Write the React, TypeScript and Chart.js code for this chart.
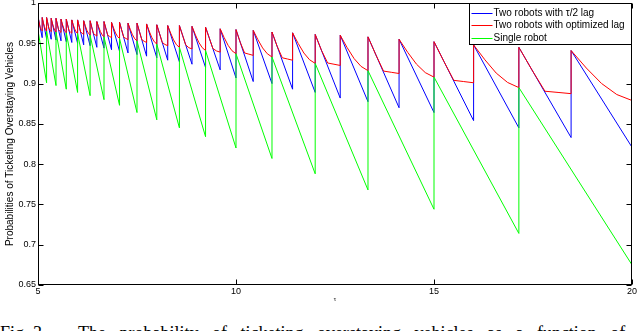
import React, { useEffect, useRef } from "react";
import { Chart, registerables } from "chart.js";

Chart.register(...registerables);

const SANS = '"Liberation Sans", Arial, Helvetica, sans-serif';

const xTickValues = [5, 10, 15, 20];
const yTickValues = [0.65, 0.7, 0.75, 0.8, 0.85, 0.9, 0.95, 1];

const seriesLabels = [
  "Two robots with \u03c4/2 lag",
  "Two robots with optimized lag",
  "Single robot",
];
const seriesColors = ["#0000ff", "#ff0000", "#00ff00"];
const yTitle = "Probabilities of Ticketing Overstaying Vehicles";
const xTitle = "\u03c4";

// Two-robot curves: reset instants (tau values)
const pairBounds = [
  5.0, 5.106, 5.217, 5.333, 5.455, 5.581, 5.714, 5.854, 6.0, 6.154, 6.316, 6.486,
  6.667, 6.857, 7.059, 7.273, 7.5, 7.742, 8.0, 8.276, 8.571, 8.889, 9.231, 9.6,
  10.0, 10.435, 10.909, 11.429, 12.0, 12.632, 13.333, 14.118, 15.0, 16.0, 17.143,
  18.462, 20.0,
];
// value right after each reset (shared by both two-robot curves)
const pairTop = [
  0.983, 0.982, 0.982, 0.981, 0.981, 0.98, 0.98, 0.979, 0.979, 0.978, 0.978, 0.977,
  0.977, 0.976, 0.976, 0.975, 0.975, 0.974, 0.973, 0.972, 0.972, 0.971, 0.97, 0.968,
  0.967, 0.966, 0.964, 0.963, 0.961, 0.96, 0.958, 0.955, 0.952, 0.948, 0.945, 0.941,
];
// tau/2 lag: value just before the next reset
const lagEnd = [
  0.957, 0.956, 0.955, 0.954, 0.953, 0.952, 0.951, 0.95, 0.948, 0.947, 0.945, 0.944,
  0.942, 0.94, 0.938, 0.936, 0.934, 0.932, 0.929, 0.927, 0.924, 0.92, 0.917, 0.907,
  0.9025, 0.9, 0.893, 0.889, 0.882, 0.8775, 0.87, 0.864, 0.854, 0.845, 0.833, 0.821,
];
// optimized lag: values at 1/4, 1/2, 3/4 of each interval and at its end
const optQ1 = [
  0.9765, 0.976, 0.9753, 0.975, 0.974, 0.974, 0.9728, 0.973, 0.9713, 0.9717, 0.9698, 0.9704,
  0.9683, 0.969, 0.9665, 0.9673, 0.9648, 0.9653, 0.962, 0.9626, 0.96, 0.9605, 0.9568, 0.9572,
  0.9509, 0.9545, 0.9463, 0.9497, 0.9413, 0.9446, 0.936, 0.9386, 0.9275, 0.9295, 0.917, 0.9193,
];
const optQ2 = [
  0.97, 0.9708, 0.9685, 0.9698, 0.967, 0.9688, 0.9655, 0.9678, 0.964, 0.9661, 0.962, 0.9645,
  0.96, 0.9628, 0.9575, 0.9605, 0.9545, 0.9575, 0.951, 0.9542, 0.948, 0.9512, 0.9435, 0.9475,
  0.938, 0.9442, 0.932, 0.9379, 0.9255, 0.931, 0.9155, 0.924, 0.904, 0.913, 0.8905, 0.9001,
];
const optQ3 = [
  0.967, 0.967, 0.966, 0.966, 0.965, 0.965, 0.964, 0.964, 0.9625, 0.9622, 0.9605, 0.9603,
  0.9585, 0.9584, 0.956, 0.9556, 0.9525, 0.952, 0.9485, 0.9482, 0.9445, 0.9446, 0.9405, 0.9407,
  0.9365, 0.937, 0.9305, 0.9296, 0.924, 0.9213, 0.914, 0.9136, 0.9025, 0.9014, 0.889, 0.8864,
];
const optEnd = [
  0.9655, 0.965, 0.9645, 0.964, 0.9635, 0.963, 0.9625, 0.962, 0.961, 0.96, 0.959, 0.958,
  0.957, 0.956, 0.9545, 0.953, 0.951, 0.949, 0.947, 0.945, 0.943, 0.941, 0.939, 0.937,
  0.935, 0.933, 0.929, 0.925, 0.9225, 0.916, 0.9125, 0.908, 0.901, 0.895, 0.8875, 0.879,
];

// Single robot: reset instants, value after reset, value before next reset
const singleBounds = [
  5.0, 5.217, 5.455, 5.714, 6.0, 6.316, 6.667, 7.059, 7.5, 8.0, 8.571, 9.231, 10.0,
  10.909, 12.0, 13.333, 15.0, 17.143, 20.0,
];
const singleTop = [
  0.966, 0.965, 0.964, 0.963, 0.962, 0.96, 0.958, 0.956, 0.953, 0.949, 0.945, 0.941,
  0.937, 0.933, 0.925, 0.916, 0.908, 0.895,
];
const singleEnd = [
  0.901, 0.8975, 0.893, 0.889, 0.885, 0.88, 0.873, 0.864, 0.855, 0.845, 0.834, 0.82,
  0.807, 0.788, 0.768, 0.744, 0.714, 0.675,
];

function lagPoints() {
  const pts: { x: number; y: number }[] = [];
  for (let i = 0; i < pairTop.length; i++) {
    pts.push({ x: pairBounds[i], y: pairTop[i] });
    pts.push({ x: pairBounds[i + 1], y: lagEnd[i] });
  }
  return pts;
}

function optPoints() {
  const pts: { x: number; y: number }[] = [];
  for (let i = 0; i < pairTop.length; i++) {
    const a = pairBounds[i];
    const b = pairBounds[i + 1];
    const w = b - a;
    pts.push({ x: a, y: pairTop[i] });
    pts.push({ x: a + 0.25 * w, y: optQ1[i] });
    pts.push({ x: a + 0.5 * w, y: optQ2[i] });
    pts.push({ x: a + 0.75 * w, y: optQ3[i] });
    pts.push({ x: b, y: optEnd[i] });
  }
  return pts;
}

function singlePoints() {
  const pts: { x: number; y: number }[] = [];
  for (let i = 0; i < singleTop.length; i++) {
    pts.push({ x: singleBounds[i], y: singleTop[i] });
    pts.push({ x: singleBounds[i + 1], y: singleEnd[i] });
  }
  return pts;
}

const framePlugin = {
  id: "matlabFrame",
  afterDraw(chart: any) {
    const { ctx, chartArea: a, scales } = chart;
    const l = Math.floor(a.left) + 0.5;
    const r = Math.ceil(a.right) - 0.5;
    const t = Math.floor(a.top) + 0.5;
    const b = Math.ceil(a.bottom) - 0.5;
    ctx.save();
    ctx.strokeStyle = "#000";
    ctx.lineWidth = 1;
    ctx.strokeRect(l, t, r - l, b - t);
    ctx.beginPath();
    const tl = 5;
    xTickValues.forEach((v) => {
      const px = Math.round(scales.x.getPixelForValue(v)) + 0.5;
      ctx.moveTo(px, b);
      ctx.lineTo(px, b - tl);
      ctx.moveTo(px, t);
      ctx.lineTo(px, t + tl);
    });
    yTickValues.forEach((v) => {
      const py = Math.round(scales.y.getPixelForValue(v)) + 0.5;
      ctx.moveTo(l, py);
      ctx.lineTo(l + tl, py);
      ctx.moveTo(r, py);
      ctx.lineTo(r - tl, py);
    });
    ctx.stroke();

    // legend box
    const bw = 162;
    const bh = 41;
    const bl = r - bw;
    ctx.fillStyle = "#fff";
    ctx.fillRect(bl, t, bw, bh);
    ctx.strokeStyle = "#000";
    ctx.strokeRect(bl, t, bw, bh);
    ctx.font = `10px ${SANS}`;
    ctx.textBaseline = "middle";
    ctx.textAlign = "left";
    chart.data.datasets.forEach((ds: any, i: number) => {
      const y = Math.round(t + 9 + i * 12.5) + 0.5;
      ctx.strokeStyle = seriesColors[i];
      ctx.lineWidth = 1;
      ctx.beginPath();
      ctx.moveTo(bl + 2, y);
      ctx.lineTo(bl + 23, y);
      ctx.stroke();
      ctx.fillStyle = "#000";
      ctx.fillText(ds.label, bl + 24, y);
    });

    // axis titles
    ctx.fillStyle = "#000";
    ctx.save();
    ctx.translate(10, (a.top + a.bottom) / 2);
    ctx.rotate(-Math.PI / 2);
    ctx.textAlign = "center";
    ctx.textBaseline = "middle";
    ctx.font = `10px ${SANS}`;
    ctx.fillText(yTitle, 0, 0);
    ctx.restore();
    ctx.font = `6px ${SANS}`;
    ctx.textAlign = "center";
    ctx.textBaseline = "middle";
    ctx.fillText(xTitle, (a.left + a.right) / 2, a.bottom + 14);
    ctx.restore();
  },
};

export default function App() {
  const ref = useRef<HTMLCanvasElement | null>(null);

  useEffect(() => {
    if (!ref.current) return;
    const chart = new Chart(ref.current, {
      type: "line",
      data: {
        datasets: [
          {
            label: seriesLabels[0],
            data: lagPoints(),
            borderColor: seriesColors[0],
            borderWidth: 1,
            pointRadius: 0,
            tension: 0,
            fill: false,
            order: 3,
          },
          {
            label: seriesLabels[1],
            data: optPoints(),
            borderColor: seriesColors[1],
            borderWidth: 1,
            pointRadius: 0,
            tension: 0,
            fill: false,
            order: 2,
          },
          {
            label: seriesLabels[2],
            data: singlePoints(),
            borderColor: seriesColors[2],
            borderWidth: 1,
            pointRadius: 0,
            tension: 0,
            fill: false,
            order: 1,
          },
        ],
      },
      options: {
        animation: false,
        responsive: false,
        devicePixelRatio: 1,
        layout: { padding: { left: 0, right: 8, top: 11, bottom: 0 } },
        plugins: {
          legend: { display: false },
          tooltip: { enabled: false },
          title: { display: false },
        },
        scales: {
          x: {
            type: "linear",
            min: 5,
            max: 20,
            afterBuildTicks: (s: any) => {
              s.ticks = xTickValues.map((v) => ({ value: v }));
            },
            afterFit: (s: any) => {
              s.height = 27;
            },
            ticks: {
              color: "#000",
              font: { family: SANS, size: 9 },
              padding: 1,
              maxRotation: 0,
              autoSkip: false,
              callback: (v: any) => String(v),
            },
            grid: { display: false, drawTicks: false },
            border: { display: false },
          },
          y: {
            type: "linear",
            min: 0.65,
            max: 1,
            afterBuildTicks: (s: any) => {
              s.ticks = yTickValues.map((v) => ({ value: v }));
            },
            afterFit: (s: any) => {
              s.width = 38;
            },
            ticks: {
              color: "#000",
              font: { family: SANS, size: 9 },
              padding: 2,
              autoSkip: false,
              callback: (v: any) => String(parseFloat(Number(v).toFixed(2))),
            },
            grid: { display: false, drawTicks: false },
            border: { display: false },
          },
        },
      },
      plugins: [framePlugin],
    } as any);
    return () => chart.destroy();
  }, []);

  return (
    <div
      style={{
        position: "fixed",
        left: 0,
        top: 0,
        width: 640,
        height: 331,
        overflow: "hidden",
        background: "#fff",
      }}
    >
      <canvas
        ref={ref}
        width={640}
        height={320}
        style={{ position: "absolute", left: 0, top: -8, width: 640, height: 320 }}
      />
      <div
        style={{
          position: "absolute",
          left: 0,
          top: 323,
          whiteSpace: "nowrap",
          fontFamily: '"Liberation Serif", "Times New Roman", serif',
          fontSize: 18,
          lineHeight: "20px",
          color: "#000",
        }}
      >
        <span style={{ position: "absolute", left: 0 }}>Fig. 3.</span>
        <span style={{ position: "absolute", left: 78, wordSpacing: 9 }}>
          The probability of ticketing overstaying vehicles as a function of
        </span>
      </div>
    </div>
  );
}
